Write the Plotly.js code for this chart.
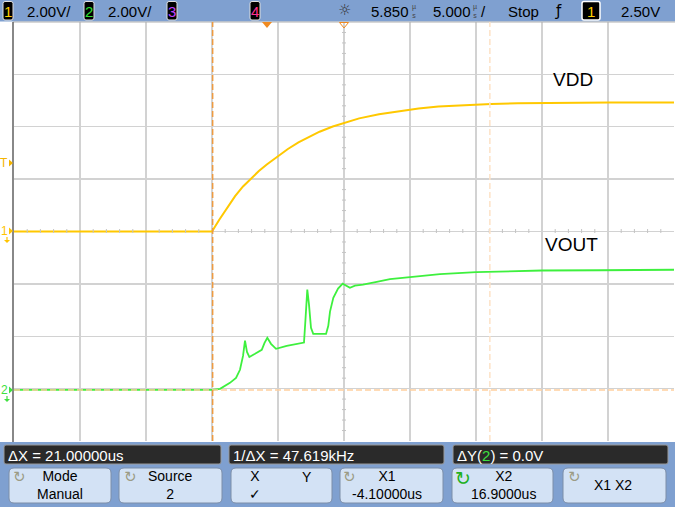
<!DOCTYPE html>
<html><head><meta charset="utf-8">
<script src="https://cdn.plot.ly/plotly-3.0.1.min.js"></script>
<style>html,body{margin:0;padding:0;background:#fff;}#chart{width:675px;height:507px;}</style>
</head><body><div id="chart"></div>
<script>
// ---- data (time in µs, volts) ----
const vddTime  = [-19.15,-4.15,-3.6,-3.0,-2.4,-1.8,-1.2,-0.6,0,0.8,1.6,2.4,3.2,4.0,5.0,6.0,7.0,8.5,10.0,11.5,13.0,15.0,17.0,19.0,22.0,26.0,30.85];
const vddVolts = [0,0,0.45,0.92,1.35,1.72,2.03,2.31,2.56,2.87,3.15,3.4,3.62,3.81,4.01,4.18,4.32,4.48,4.6,4.7,4.77,4.83,4.87,4.9,4.92,4.93,4.93];
const voutTime  = [-19.15,-4.15,-3.54,-2.79,-2.33,-2.03,-1.80,-1.65,-1.50,-1.32,-0.89,-0.38,-0.17,0.04,0.32,0.70,1.51,2.21,2.82,2.93,3.07,3.20,3.35,3.52,4.49,4.66,4.79,5.04,5.40,5.75,6.00,6.30,6.68,7.29,8.33,9.33,10.85,13.12,15.85,18.43,20.85,25.24,30.85];
const voutVolts = [0,0,0.04,0.27,0.46,0.77,1.30,1.88,1.45,1.26,1.38,1.53,1.80,1.99,1.76,1.57,1.68,1.76,1.81,2.68,3.83,3.25,2.37,2.14,2.14,2.45,2.99,3.52,3.87,4.06,3.98,3.90,3.98,4.02,4.13,4.23,4.31,4.42,4.50,4.54,4.56,4.57,4.59];
const traceNames = ["VDD","VOUT"];
const timePerDiv = 5, timeDelay = 5.85, voltsPerDiv = 2, ch2Offset = 1.95;
const cursorX1 = -4.1, cursorX2 = 16.9, cursorY = 0, triggerLevel = 2.5;
const topTexts = ["2.00V/","2.00V/","5.850","5.000","Stop","2.50V"];
const panelTexts = ["ΔX = 21.00000us","1/ΔX = 47.619kHz","ΔY(<span style='color:#3ee03e'>2</span>) = 0.0V"];
const buttonTexts = ["Mode<br>Manual","Source<br>2","X<br>✓","Y","X1<br>-4.10000us","X2<br>16.9000us","X1 X2"];

// ---- geometry helpers (decoration only) ----
const W=675,H=507,ML=14,MR=1,MT=22,MB=66;
const PW=W-ML-MR, PH=H-MT-MB;
const px = x => (x-ML)/PW;
const py = y => (H-MB-y)/PH;
function rrect(x0,y0,x1,y1,r){
  const X=px,Y=py;
  return `M${X(x0+r)},${Y(y0)} L${X(x1-r)},${Y(y0)} Q${X(x1)},${Y(y0)} ${X(x1)},${Y(y0+r)} L${X(x1)},${Y(y1-r)} Q${X(x1)},${Y(y1)} ${X(x1-r)},${Y(y1)} L${X(x0+r)},${Y(y1)} Q${X(x0)},${Y(y1)} ${X(x0)},${Y(y1-r)} L${X(x0)},${Y(y0+r)} Q${X(x0)},${Y(y0)} ${X(x0+r)},${Y(y0)} Z`;
}
const FONT = "Liberation Sans, Arial, sans-serif";
const shapes = [], ann = [];
function txt(t,x,y,o={}){
  ann.push(Object.assign({text:t,x:px(x),y:py(y),xref:'paper',yref:'paper',showarrow:false,
    xanchor:'center',yanchor:'middle',font:{family:FONT,size:15,color:'#000'}},o));
}
const blue = '#7fa0d0';
// top bar
shapes.push({type:'rect',xref:'paper',yref:'paper',x0:px(0),x1:px(675),y0:py(0),y1:py(21.5),fillcolor:blue,line:{width:0}});
// bottom bar
shapes.push({type:'rect',xref:'paper',yref:'paper',x0:px(0),x1:px(675),y0:py(442),y1:py(507),fillcolor:blue,line:{width:0}});
// top border of display
shapes.push({type:'line',xref:'paper',yref:'paper',x0:px(13),x1:px(675),y0:py(22),y1:py(22),line:{color:'#b0b0b0',width:1}});
// left border
shapes.push({type:'line',xref:'paper',yref:'paper',x0:px(13),x1:px(13),y0:py(22),y1:py(442),line:{color:'#606060',width:1.5}});
// badges
function badge(x0,x1,num,color){
  shapes.push({type:'path',xref:'paper',yref:'paper',path:rrect(x0,1.5,x1,20,2),fillcolor:'#000',line:{color:'#e0e0e0',width:1}});
  txt(num,(x0+x1)/2,11,{font:{family:FONT,size:15,color:color}});
}
badge(3,13,'1','#ffd000'); badge(84,94,'2','#30e030'); badge(167,177,'3','#c040ff'); badge(250,260,'4','#ff3090');
shapes.push({type:'path',xref:'paper',yref:'paper',path:rrect(582,1.5,600,20,2),fillcolor:'#000',line:{color:'#ffffff',width:1.5}});
txt('1',591,11,{font:{family:FONT,size:15,color:'#ffd000'}});
txt(topTexts[0],25,11,{xanchor:'left'});
txt(topTexts[1],106,11,{xanchor:'left'});
txt('☼',344,10,{font:{family:'DejaVu Sans',size:15,color:'#333'}});
txt(topTexts[2],369,11,{xanchor:'left'});
txt('µ<br>s',414,11,{font:{family:FONT,size:7}});
txt(topTexts[3],431,11,{xanchor:'left'});
txt('µ<br>s',475,11,{font:{family:FONT,size:7}});
txt('/',483,11,{});
txt(topTexts[4],506,11,{xanchor:'left'});
txt('ƒ',558,11,{font:{family:'DejaVu Sans',size:15,color:'#000'}});
txt(topTexts[5],619,11,{xanchor:'left'});
// dark panels
[[4,221],[229,444],[453,668]].forEach((p,i)=>{
  shapes.push({type:'path',xref:'paper',yref:'paper',path:rrect(p[0],445,p[1],464,2),fillcolor:'#2a2a2a',line:{color:'#9a9a9a',width:1}});
  txt(panelTexts[i],p[0]+2,455,{xanchor:'left',font:{family:FONT,size:15,color:'#fff'}});
});
// buttons
const btns=[[9,111],[119,222],[231,332],[340,443],[452,553],[563,666]];
btns.forEach((b,i)=>{
  shapes.push({type:'path',xref:'paper',yref:'paper',path:rrect(b[0],468,b[1],503,5),fillcolor:'#d3e2f5',line:{color:'#7d8ea8',width:1}});
});
const bf = {family:FONT,size:14,color:'#000'};
txt(buttonTexts[0],60,485.5,{font:bf});
txt(buttonTexts[1],170,485.5,{font:bf});
txt(buttonTexts[2],255,485.5,{font:bf});
txt(buttonTexts[3],307,477,{font:bf});
txt(buttonTexts[4],387,485.5,{font:bf});
txt(buttonTexts[5],503,485.5,{font:bf});
txt(buttonTexts[6],613,485,{font:bf});
[[19,477],[130,477],[349,477],[574,477]].forEach(p=>txt('↻',p[0],p[1],{font:{family:'DejaVu Sans',size:15,color:'#9c9c86'}}));
txt('↻',463,478,{font:{family:'DejaVu Sans',size:19,color:'#20b020'}});

// left channel markers
function marker(label,y,color,ground){
  txt(label,4,y,{font:{family:FONT,size:12,color:color}});
  shapes.push({type:'path',xref:'paper',yref:'paper',path:`M${px(9)},${py(y-3.5)} L${px(13)},${py(y)} L${px(9)},${py(y+3.5)} Z`,fillcolor:color,line:{width:0}});
  if(ground){
    shapes.push({type:'line',xref:'paper',yref:'paper',x0:px(7),x1:px(7),y0:py(y+6),y1:py(y+11),line:{color:color,width:1.2}});
    shapes.push({type:'path',xref:'paper',yref:'paper',path:`M${px(4)},${py(y+9)} L${px(10)},${py(y+9)} L${px(7)},${py(y+12)} Z`,fillcolor:color,line:{width:0}});
  }
}
marker('T',163,'#f4b400',false);
marker('1',231,'#ffc400',true);
marker('2',390,'#40e040',true);

// top markers: trigger position (t=0) and delay reference (center)
shapes.push({type:'path',xref:'paper',yref:'paper',
  path:`M${px(262)},${py(22)} L${px(272)},${py(22)} L${px(267)},${py(28)} Z`,fillcolor:'#f08a20',line:{width:0}});
shapes.push({type:'path',xref:'paper',yref:'paper',
  path:`M${px(339.5)},${py(22.5)} L${px(348.5)},${py(22.5)} L${px(344)},${py(28)} Z`,fillcolor:'rgba(0,0,0,0)',line:{color:'#f08a20',width:1}});

// center-line minor ticks
for(let k=-25;k<=25;k++){ if(k%5===0) continue;
  const t = timeDelay + k*timePerDiv/5;
  shapes.push({type:'line',xref:'x',yref:'paper',x0:t,x1:t,y0:py(233),y1:py(229),line:{color:'#c4c4c4',width:1}});
}
for(let k=-20;k<=20;k++){ if(k%5===0) continue;
  const v = k*voltsPerDiv/5;
  shapes.push({type:'line',xref:'paper',yref:'y',x0:px(342),x1:px(346),y0:v,y1:v,line:{color:'#c4c4c4',width:1}});
}
// cursors
shapes.push({type:'line',xref:'paper',yref:'y2',x0:0,x1:1,y0:cursorY,y1:cursorY,line:{color:'#ffcf9e',width:1.5,dash:'6px,3px'}});
shapes.push({type:'line',xref:'x',yref:'paper',x0:cursorX2,x1:cursorX2,y0:0,y1:1,line:{color:'#fde2c6',width:1.5,dash:'6px,3px'}});
shapes.push({type:'line',xref:'x',yref:'paper',x0:cursorX1,x1:cursorX1,y0:0,y1:1,line:{color:'#ee9a40',width:1.5,dash:'6px,3px'}});

// trace labels
ann.push({text:traceNames[0],x:23.2,y:5.8,xref:'x',yref:'y',showarrow:false,font:{family:FONT,size:19,color:'#000'}});
ann.push({text:traceNames[1],x:23.05,y:-0.5,xref:'x',yref:'y',showarrow:false,font:{family:FONT,size:19,color:'#000'}});

const data = [
  {x:vddTime,y:vddVolts,type:'scatter',mode:'lines',line:{color:'#ffc800',width:2},yaxis:'y',hoverinfo:'skip'},
  {x:voutTime,y:voutVolts,type:'scatter',mode:'lines',line:{color:'#3ef03e',width:1.8},yaxis:'y2',hoverinfo:'skip'}
];
const layout = {
  width:W,height:H,margin:{l:ML,r:MR,t:MT,b:MB,pad:0},
  paper_bgcolor:'#fff',plot_bgcolor:'#fff',showlegend:false,
  xaxis:{range:[timeDelay-5*timePerDiv,timeDelay+5*timePerDiv],tick0:timeDelay,dtick:timePerDiv,showgrid:true,
    gridcolor:'#d2d2d2',gridwidth:1.3,zeroline:false,showticklabels:false,ticks:'',showline:false,fixedrange:true},
  yaxis:{range:[-4*voltsPerDiv,4*voltsPerDiv],tick0:0,dtick:voltsPerDiv,showgrid:true,gridcolor:'#d2d2d2',gridwidth:1.3,
    zeroline:false,showticklabels:false,ticks:'',showline:false,fixedrange:true},
  yaxis2:{range:[-ch2Offset,8*voltsPerDiv-ch2Offset],overlaying:'y',visible:false,showgrid:false,zeroline:false,fixedrange:true},
  shapes:shapes,annotations:ann
};
Plotly.newPlot('chart',data,layout,{staticPlot:true,displayModeBar:false});
</script></body></html>
